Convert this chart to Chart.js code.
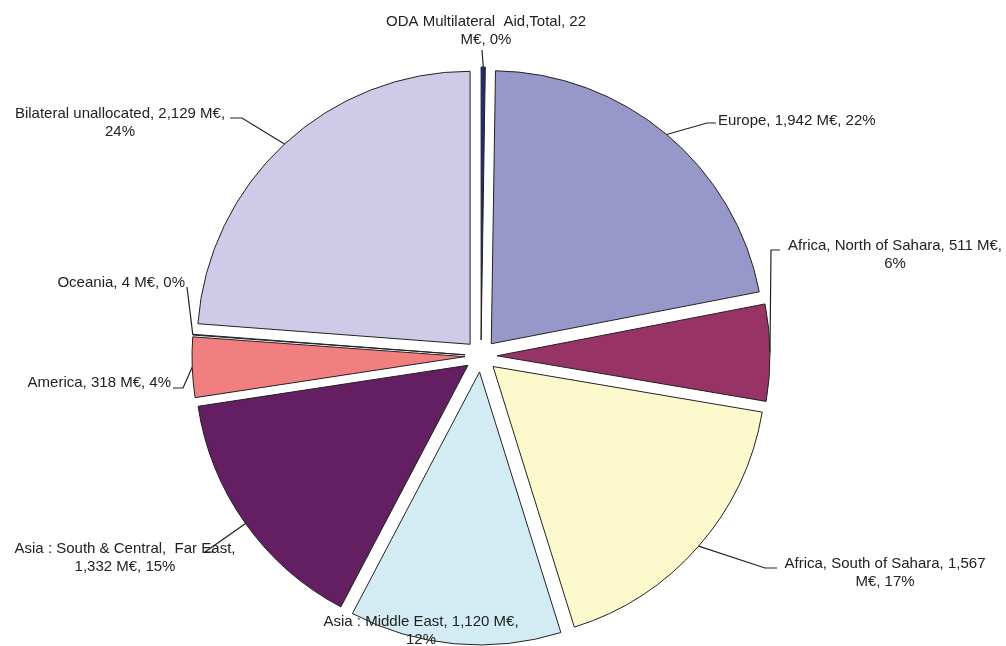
<!DOCTYPE html>
<html>
<head>
<meta charset="utf-8">
<script src="https://cdn.jsdelivr.net/npm/chart.js"></script>
<style>
  html, body { margin: 0; padding: 0; background: #fff; }
  #wrap { width: 1006px; height: 646px; position: relative; }
</style>
</head>
<body>
<div id="wrap"><canvas id="chart"></canvas></div>
<script>
// data, clockwise from 12 o'clock
const regions = [
  "ODA Multilateral  Aid,Total",
  "Europe",
  "Africa, North of Sahara",
  "Africa, South of Sahara",
  "Asia : Middle East",
  "Asia : South & Central,  Far East",
  "America",
  "Oceania",
  "Bilateral unallocated"
];
const amounts = [22, 1942, 511, 1567, 1120, 1332, 318, 4, 2129];   // M€
const shares = [0, 22, 6, 17, 12, 15, 4, 0, 24];                  // % as printed
const colours = ["#242a78", "#9797c9", "#983365", "#fcf9cd", "#d3ecf3",
                 "#631f62", "#f27f80", "#2a6ab8", "#cecae7"];

const EXPLODE = 16;

// where each label goes (text anchor, line break, leader path after the slice edge)
const labelLayout = [
  { x: 486, y: 22, align: "center", br: "M€", path: [[482, 50]] },
  { x: 718, y: 121, align: "left", br: null, path: [[707, 123], [716, 123]] },
  { x: 895, y: 246, align: "center", br: "6%", path: [[771, 250], [780, 250]] },
  { x: 885, y: 564, align: "center", br: "M€", path: [[765, 568], [777, 568]] },
  { x: 421, y: 622, align: "center", br: "12%", path: [] },
  { x: 125, y: 549, align: "center", br: "1,332", path: [[205, 552], [214, 552]] },
  { x: 171, y: 383, align: "right", br: null, path: [[183, 388], [173, 388]] },
  { x: 185, y: 283, align: "right", br: null, path: [[187, 287]] },
  { x: 120, y: 114, align: "center", br: "24%", path: [[242, 118], [230, 118]] }
];

const fmt = v => v.toLocaleString("en-US");

const explode = {
  id: "explode",
  afterUpdate(chart) {
    chart.getDatasetMeta(0).data.forEach(arc => {
      const baseDraw = Object.getPrototypeOf(arc).draw;
      arc.draw = function (ctx, area) {
        const mid = (this.startAngle + this.endAngle) / 2;
        ctx.save();
        ctx.translate(Math.cos(mid) * EXPLODE, Math.sin(mid) * EXPLODE);
        baseDraw.call(this, ctx, area);
        ctx.restore();
      };
    });
  }
};

const pieLabels = {
  id: "pieLabels",
  afterDraw(chart) {
    const ctx = chart.ctx;
    const arcs = chart.getDatasetMeta(0).data;
    ctx.save();
    ctx.strokeStyle = "#222";
    ctx.lineWidth = 1.2;
    ctx.fillStyle = "#222";
    ctx.font = "15px 'Liberation Sans', Arial, sans-serif";
    ctx.textBaseline = "middle";
    arcs.forEach((arc, i) => {
      const lay = labelLayout[i];
      const mid = (arc.startAngle + arc.endAngle) / 2;
      const r = arc.outerRadius + EXPLODE;
      if (lay.path.length) {
        ctx.beginPath();
        ctx.moveTo(arc.x + Math.cos(mid) * r, arc.y + Math.sin(mid) * r);
        lay.path.forEach(p => ctx.lineTo(p[0], p[1]));
        ctx.stroke();
      }
      const text = regions[i] + ", " + fmt(amounts[i]) + " M€, " + shares[i] + "%";
      let lines = [text];
      if (lay.br) {
        const k = text.indexOf(lay.br);
        lines = [text.slice(0, k).trimEnd(), text.slice(k)];
      }
      ctx.textAlign = lay.align;
      lines.forEach((ln, j) => {
        const lx = lay.align === "center" ? lay.x : lay.x;
        ctx.fillText(ln, lx, lay.y + j * 18);
      });
    });
    ctx.restore();
  }
};

new Chart(document.getElementById("chart"), {
  type: "pie",
  data: {
    labels: regions,
    datasets: [{
      data: amounts,
      backgroundColor: colours,
      borderColor: "#222",
      borderWidth: 1
    }]
  },
  options: {
    responsive: true,
    maintainAspectRatio: false,
    animation: false,
    radius: 273,
    layout: { padding: { left: 0, right: 44, top: 66, bottom: 0 } },
    plugins: {
      legend: { display: false },
      tooltip: { enabled: false }
    }
  },
  plugins: [explode, pieLabels]
});
</script>
</body>
</html>
